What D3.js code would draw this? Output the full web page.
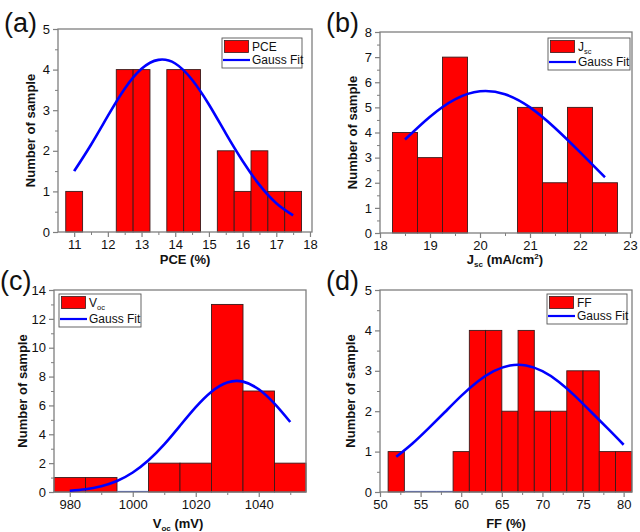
<!DOCTYPE html>
<html>
<head>
<meta charset="utf-8">
<script src="https://cdnjs.cloudflare.com/ajax/libs/d3/7.8.5/d3.min.js"></script>
<style>
  html, body { margin: 0; padding: 0; background: #fff; }
  svg { display: block; font-family: "Liberation Sans", Arial, sans-serif; }
</style>
</head>
<body>
<svg id="chart" width="640" height="532"></svg>
<script>
// ---------- DATA ----------
// (a) PCE histogram (bin centres, counts), bin width 0.5
const pceBins   = [11, 12.5, 13, 14, 14.5, 15.5, 16, 16.5, 17, 17.5];
const pceCounts = [1, 4, 4, 4, 4, 2, 1, 2, 1, 1];
const pceWidth  = 0.5;
const pceFitX   = [11, 11.5, 12, 12.5, 13, 13.5, 14, 14.5, 15, 15.5, 16, 16.5, 17, 17.5];
const pceFitY   = [1.50, 2.15, 2.86, 3.53, 4.02, 4.24, 4.15, 3.75, 3.14, 2.43, 1.75, 1.16, 0.71, 0.41];
const pceXTicks = [11, 12, 13, 14, 15, 16, 17, 18];
const pceYTicks = [0, 1, 2, 3, 4, 5];

// (b) Jsc histogram, bin width 0.5
const jscBins   = [18.5, 19, 19.5, 21, 21.5, 22, 22.5];
const jscCounts = [4, 3, 7, 5, 2, 5, 2];
const jscWidth  = 0.5;
const jscFitX   = [18.5, 19, 19.5, 20, 20.5, 21, 21.5, 22, 22.5];
const jscFitY   = [3.72, 4.63, 5.32, 5.64, 5.52, 5.00, 4.18, 3.22, 2.22];
const jscXTicks = [18, 19, 20, 21, 22, 23];
const jscYTicks = [0, 1, 2, 3, 4, 5, 6, 7, 8];

// (c) Voc histogram, bin width 10
const vocBins   = [980, 990, 1000, 1010, 1020, 1030, 1040, 1050];
const vocCounts = [1, 1, 0, 2, 2, 13, 7, 2];
const vocWidth  = 10;
const vocFitX   = [980, 985, 990, 995, 1000, 1005, 1010, 1015, 1020, 1025, 1030, 1035, 1040, 1045, 1050];
const vocFitY   = [0.09, 0.19, 0.40, 0.76, 1.35, 2.20, 3.30, 4.59, 5.88, 6.95, 7.59, 7.65, 7.12, 6.12, 4.85];
const vocXTicks = [980, 1000, 1020, 1040];
const vocYTicks = [0, 2, 4, 6, 8, 10, 12, 14];

// (d) FF histogram, bin width 2
const ffBins    = [52, 54, 56, 58, 60, 62, 64, 66, 68, 70, 72, 74, 76, 78, 80];
const ffCounts  = [1, 0, 0, 0, 1, 4, 4, 2, 4, 2, 2, 3, 3, 1, 1];
const ffWidth   = 2;
const ffFitX    = [52, 54, 56, 58, 60, 62, 64, 66, 68, 70, 72, 74, 76, 78, 80];
const ffFitY    = [0.87, 1.20, 1.58, 1.98, 2.38, 2.73, 2.99, 3.13, 3.13, 2.99, 2.73, 2.38, 1.98, 1.58, 1.17];
const ffXTicks  = [50, 55, 60, 65, 70, 75, 80];
const ffYTicks  = [0, 1, 2, 3, 4, 5];

const fitLegend = "Gauss Fit";

// ---------- DRAW ----------
const svg = d3.select("#chart");
const AXIS = "#7f7f7f";
const BAR = "#ff0000";
const LINE = "#0000ff";

function mid(t) { const m = []; for (let i = 0; i < t.length - 1; i++) m.push((t[i] + t[i + 1]) / 2); return m; }

function panel(o) {
  const g = svg.append("g");
  const x = d3.scaleLinear().domain(o.xDomain).range([o.left, o.right]);
  const y = d3.scaleLinear().domain(o.yDomain).range([o.bottom, o.top]);

  // bars
  o.bins.forEach((c, i) => {
    const v = o.counts[i];
    const x0 = x(c - o.width / 2), x1 = x(c + o.width / 2);
    if (v === 0) {
      g.append("line").attr("x1", x0).attr("x2", x1).attr("y1", y(0) - 0.5).attr("y2", y(0) - 0.5)
        .attr("stroke", "#3b5bd9").attr("stroke-width", 1.2);
      return;
    }
    g.append("rect")
      .attr("x", x0).attr("y", y(v))
      .attr("width", x1 - x0).attr("height", y(0) - y(v))
      .attr("fill", BAR).attr("stroke", "#3a1a1a").attr("stroke-width", 0.9);
  });

  // frame
  g.append("rect").attr("x", o.left).attr("y", o.top)
    .attr("width", o.right - o.left).attr("height", o.bottom - o.top)
    .attr("fill", "none").attr("stroke", AXIS).attr("stroke-width", 1.3);

  // x axis
  const xa = g.append("g").attr("transform", `translate(0,${o.bottom})`)
    .call(d3.axisBottom(x).tickValues(o.xTicks).tickSize(5).tickPadding(3).tickFormat(d3.format("d")));
  xa.select(".domain").remove();
  xa.selectAll(".tick line").attr("stroke", AXIS).attr("stroke-width", 1.2);
  xa.selectAll(".tick text").attr("font-size", 13).attr("fill", "#111").attr("font-family", "Liberation Sans, Arial, sans-serif");
  const xm = g.append("g").attr("transform", `translate(0,${o.bottom})`)
    .call(d3.axisBottom(x).tickValues(mid(o.xTicks).concat(o.xMinorExtra || [])).tickSize(3).tickFormat(""));
  xm.select(".domain").remove();
  xm.selectAll(".tick line").attr("stroke", AXIS).attr("stroke-width", 1);

  // y axis
  const ya = g.append("g").attr("transform", `translate(${o.left},0)`)
    .call(d3.axisLeft(y).tickValues(o.yTicks).tickSize(5).tickPadding(3).tickFormat(d3.format("d")));
  ya.select(".domain").remove();
  ya.selectAll(".tick line").attr("stroke", AXIS).attr("stroke-width", 1.2);
  ya.selectAll(".tick text").attr("font-size", 13).attr("fill", "#111").attr("font-family", "Liberation Sans, Arial, sans-serif");
  const ym = g.append("g").attr("transform", `translate(${o.left},0)`)
    .call(d3.axisLeft(y).tickValues(mid(o.yTicks)).tickSize(3).tickFormat(""));
  ym.select(".domain").remove();
  ym.selectAll(".tick line").attr("stroke", AXIS).attr("stroke-width", 1);

  // fit curve
  const line = d3.line().x((d, i) => x(o.fitX[i])).y(d => y(d)).curve(d3.curveNatural);
  g.append("path").datum(o.fitY).attr("d", line)
    .attr("fill", "none").attr("stroke", LINE).attr("stroke-width", 2.6);

  // titles
  const yt = g.append("text")
    .attr("transform", `translate(${o.yTitleX},${(o.top + o.bottom) / 2}) rotate(-90)`)
    .attr("text-anchor", "middle").attr("font-size", 13).attr("font-weight", "bold").attr("fill", "#111")
    .text("Number of sample");
  const xt = g.append("text").attr("x", o.xTitleX).attr("y", o.xTitleY)
    .attr("text-anchor", "middle").attr("font-size", 13).attr("font-weight", "bold").attr("fill", "#111");
  o.xTitle(xt);

  // panel letter
  g.append("text").attr("x", o.letterX).attr("y", o.letterY)
    .attr("font-size", 27).attr("fill", "#111").text(o.letter);

  // legend
  const L = o.legend;
  g.append("rect").attr("x", L.x).attr("y", L.y).attr("width", L.w).attr("height", L.h)
    .attr("fill", "#fff").attr("stroke", "#555").attr("stroke-width", 0.9);
  g.append("rect").attr("x", L.x + 2.5).attr("y", L.y + 2.5).attr("width", 24).attr("height", 12)
    .attr("fill", BAR).attr("stroke", "#3a1a1a").attr("stroke-width", 0.8);
  const lt = g.append("text").attr("x", L.x + 30).attr("y", L.y + 13)
    .attr("font-size", 12).attr("fill", "#111");
  o.legendLabel(lt);
  g.append("line").attr("x1", L.x + 1).attr("x2", L.x + 28)
    .attr("y1", L.y + L.h - 8).attr("y2", L.y + L.h - 8)
    .attr("stroke", LINE).attr("stroke-width", 2.2);
  g.append("text").attr("x", L.x + 30).attr("y", L.y + L.h - 4)
    .attr("font-size", 12).attr("fill", "#111").text(fitLegend);
}

function subText(sel, main, sub, rest, sup, tail) {
  sel.append("tspan").text(main);
  sel.append("tspan").attr("font-size", "0.62em").attr("dy", 3).text(sub);
  sel.append("tspan").attr("dy", -3).text(rest || "");
  if (sup) {
    sel.append("tspan").attr("font-size", "0.62em").attr("dy", -5).text(sup);
    sel.append("tspan").attr("dy", 5).text(tail);
  }
}

panel({
  left: 58, right: 312, top: 29, bottom: 232,
  xDomain: [10.52, 18.06], yDomain: [0, 5],
  bins: pceBins, counts: pceCounts, width: pceWidth,
  fitX: pceFitX, fitY: pceFitY, xTicks: pceXTicks, yTicks: pceYTicks,
  yTitleX: 35, xTitleX: 185, xTitleY: 264,
  xTitle: t => t.text("PCE (%)"),
  letter: "(a)", letterX: 4, letterY: 32,
  legend: { x: 222, y: 38, w: 80, h: 30 },
  legendLabel: t => t.text("PCE")
});

panel({
  left: 380, right: 632, top: 32, bottom: 233,
  xDomain: [18, 23.04], yDomain: [0, 8],
  bins: jscBins, counts: jscCounts, width: jscWidth,
  fitX: jscFitX, fitY: jscFitY, xTicks: jscXTicks, yTicks: jscYTicks,
  yTitleX: 357, xTitleX: 505, xTitleY: 264,
  xTitle: t => subText(t, "J", "sc", " (mA/cm", "2", ")"),
  letter: "(b)", letterX: 326, letterY: 32,
  legend: { x: 548, y: 38, w: 82, h: 32 },
  legendLabel: t => subText(t, "J", "sc", "")
});

panel({
  left: 54, right: 306, top: 290, bottom: 492,
  xDomain: [975, 1055], yDomain: [0, 14],
  bins: vocBins, counts: vocCounts, width: vocWidth,
  fitX: vocFitX, fitY: vocFitY, xTicks: vocXTicks, yTicks: vocYTicks,
  xMinorExtra: [1050],
  yTitleX: 27, xTitleX: 178, xTitleY: 528,
  xTitle: t => subText(t, "V", "oc", " (mV)"),
  letter: "(c)", letterX: 0, letterY: 290,
  legend: { x: 59, y: 294, w: 82, h: 33 },
  legendLabel: t => subText(t, "V", "oc", "")
});

panel({
  left: 380, right: 632, top: 290, bottom: 492,
  xDomain: [50, 81.03], yDomain: [0, 5],
  bins: ffBins, counts: ffCounts, width: ffWidth,
  fitX: ffFitX, fitY: ffFitY, xTicks: ffXTicks, yTicks: ffYTicks,
  yTitleX: 355, xTitleX: 506, xTitleY: 528,
  xTitle: t => t.text("FF (%)"),
  letter: "(d)", letterX: 326, letterY: 290,
  legend: { x: 547, y: 294, w: 80, h: 30 },
  legendLabel: t => t.text("FF")
});
</script>
</body>
</html>
